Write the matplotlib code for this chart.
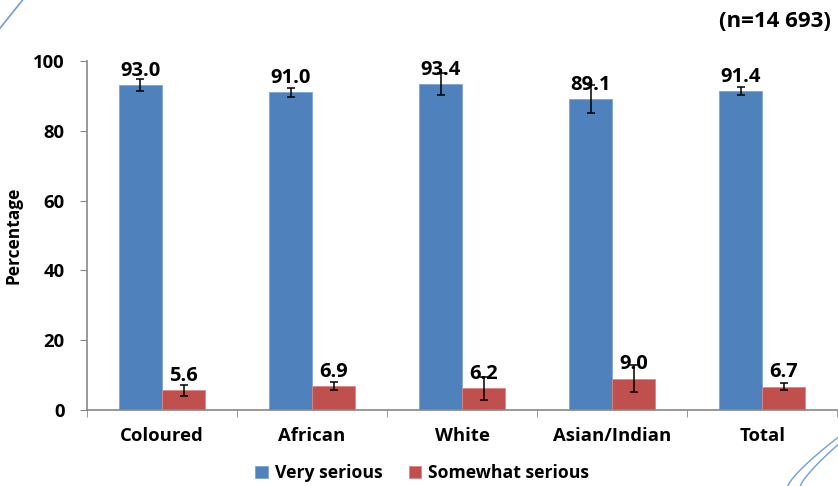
import numpy as np
import matplotlib
matplotlib.use('Agg')
from matplotlib import pyplot as plt
from matplotlib.lines import Line2D

categories = ['Coloured', 'African', 'White', 'Asian/Indian', 'Total']
very_serious = [93.0, 91.0, 93.4, 89.1, 91.4]
very_err = [1.7, 1.2, 3.1, 4.0, 1.1]
somewhat_serious = [5.6, 6.9, 6.2, 9.0, 6.7]
somewhat_err = [1.5, 1.2, 3.2, 3.8, 1.0]
series_names = ['Very serious', 'Somewhat serious']
sample_note = '(n=14 693)'

plt.rcParams['font.family'] = ['Open Sans', 'DejaVu Sans']
plt.rcParams['font.weight'] = 'bold'

fig = plt.figure(figsize=(8.38, 4.86), dpi=100)
ax = fig.add_axes([0.1038, 0.1564, 0.8952, 0.7181])

x = np.arange(len(categories))
w = 0.287
blue = '#4F81BD'
red = '#C0504D'
b1 = ax.bar(x - w / 2, very_serious, w, color=blue, edgecolor='#7ea3d4', linewidth=0.6,
            label=series_names[0])
b2 = ax.bar(x + w / 2, somewhat_serious, w, color=red, edgecolor='#d98886', linewidth=0.6,
            label=series_names[1])
ax.errorbar(x - w / 2, very_serious, yerr=very_err, fmt='none', ecolor='black',
            elinewidth=1.1, capsize=3, capthick=1.1)
ax.errorbar(x + w / 2, somewhat_serious, yerr=somewhat_err, fmt='none', ecolor='black',
            elinewidth=1.1, capsize=3, capthick=1.1)

for xi, v in zip(x - w / 2, very_serious):
    ax.annotate(f'{v:.1f}', (xi, v), xytext=(0, 3), textcoords='offset points',
                ha='center', va='bottom', fontsize=14.5, fontweight='bold')
for xi, v in zip(x + w / 2, somewhat_serious):
    ax.annotate(f'{v:.1f}', (xi, v), xytext=(0, 3), textcoords='offset points',
                ha='center', va='bottom', fontsize=14.5, fontweight='bold')

ax.set_xlim(-0.5, len(categories) - 0.5)
ax.set_ylim(0, 100)
ax.set_yticks(range(0, 101, 20))
ax.set_xticks(x)
ax.set_xticklabels(categories, fontsize=13.3, fontweight='bold')
ax.set_xticks(np.arange(-0.5, len(categories)), minor=True)
ax.tick_params(axis='x', which='major', length=0, pad=12)
ax.tick_params(axis='x', which='minor', length=5, color='#888888', direction='out')
ax.tick_params(axis='y', length=5, color='#888888', direction='out', labelsize=13.3, pad=11)
for t in ax.get_yticklabels():
    t.set_fontweight('bold')

for s in ['top', 'right']:
    ax.spines[s].set_visible(False)
for s in ['left', 'bottom']:
    ax.spines[s].set_color('#888888')
    ax.spines[s].set_linewidth(1.2)

ax.set_ylabel('Percentage', fontsize=12.5, fontweight='bold', labelpad=8)

fig.text(0.991, 0.955, sample_note, ha='right', va='center', fontsize=16, fontweight='bold')

fig.legend(handles=[b1, b2], loc='center', bbox_to_anchor=(0.504, 0.026), ncol=2,
           frameon=False, handlelength=0.7, handleheight=0.7,
           handletextpad=0.4, columnspacing=1.5, prop={'weight': 'bold', 'size': 12.7})

# decorative corner strokes
deco = '#6f9fd8'
fig.add_artist(Line2D([0.0, 0.027], [0.942, 1.0], color=deco, lw=1.2,
                      transform=fig.transFigure))
t = np.linspace(0, 1, 30)
fig.add_artist(Line2D(0.94 + 0.06 * t, 0.0 + 0.10 * t ** 0.8, color=deco, lw=1.0,
                      transform=fig.transFigure))
fig.add_artist(Line2D(0.955 + 0.045 * t, 0.0 + 0.085 * t ** 0.8, color=deco, lw=1.0,
                      transform=fig.transFigure))

fig.savefig('out.png', dpi=100)
